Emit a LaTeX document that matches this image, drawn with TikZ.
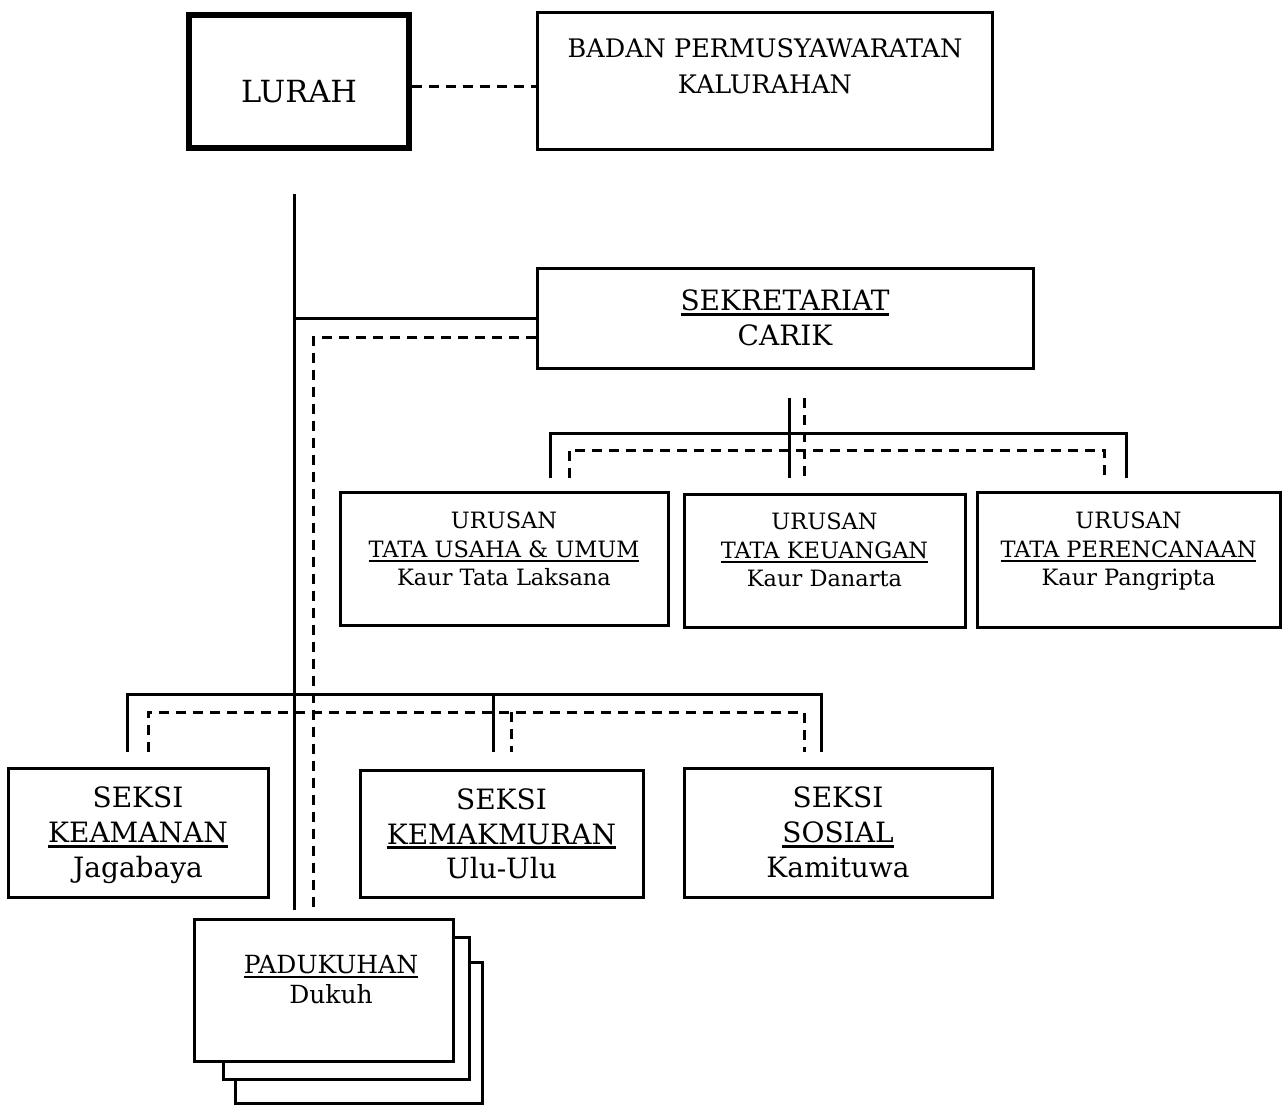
\documentclass[tikz,border=0pt]{standalone}
\usepackage{fontspec}
\setmainfont{DejaVu Serif}
\newcommand{\undl}[1]{\leavevmode\vtop{\hbox{#1}\kern2pt\hrule height 2.5pt}}
\tikzstyle{box} = [rectangle, draw, fill=white, line width=3pt, inner sep=0pt]
\tikzstyle{headbox} = [box, line width=6pt]
\tikzstyle{boxtext} = [anchor=north, align=center, inner sep=0pt]
\tikzstyle{conn} = [line width=3pt]
\tikzstyle{dconn} = [line width=3pt, dash pattern=on 10pt off 7pt]

\begin{document}
\begin{tikzpicture}[x=1pt, y=-1pt]
\useasboundingbox (0,0) rectangle (1284,1104);

% Top row
\node (lurah) [headbox, minimum width=220, minimum height=133] at (299,81.5) {};
\node (lurah-t) [boxtext, font=\fontsize{30.5}{36}\selectfont] at (299,80) {LURAH};
\node (bpk) [box, minimum width=455, minimum height=137] at (764.5,80.5) {};
\node (bpk-t) [boxtext, font=\fontsize{25.5}{36}\selectfont] at (765,38) {BADAN PERMUSYAWARATAN\\KALURAHAN};

% Sekretariat
\node (sek) [box, minimum width=496, minimum height=100] at (785,318) {};
\node (sek-t) [boxtext, font=\fontsize{28}{35}\selectfont] at (785,290) {\undl{SEKRETARIAT}\\CARIK};

% Urusan
\node (tu) [box, minimum width=328, minimum height=133] at (504,558.5) {};
\node (tu-t) [boxtext, font=\fontsize{22.5}{28.5}\selectfont] at (504,512) {URUSAN\\\undl{TATA USAHA \& UMUM}\\Kaur Tata Laksana};
\node (keu) [box, minimum width=281, minimum height=133] at (824.5,560.5) {};
\node (keu-t) [boxtext, font=\fontsize{22.5}{28.5}\selectfont] at (824.5,513) {URUSAN\\\undl{TATA KEUANGAN}\\Kaur Danarta};
\node (ren) [box, minimum width=303, minimum height=135] at (1128.5,559.5) {};
\node (ren-t) [boxtext, font=\fontsize{22.5}{28.5}\selectfont] at (1128.5,512) {URUSAN\\\undl{TATA PERENCANAAN}\\Kaur Pangripta};

% Seksi
\node (keam) [box, minimum width=260, minimum height=129] at (138,832.5) {};
\node (keam-t) [boxtext, font=\fontsize{28}{35}\selectfont] at (138,787) {SEKSI\\\undl{KEAMANAN}\\Jagabaya};
\node (makmur) [box, minimum width=283, minimum height=127] at (501.5,833.5) {};
\node (makmur-t) [boxtext, font=\fontsize{28}{35}\selectfont] at (501.5,788) {SEKSI\\\undl{KEMAKMURAN}\\Ulu-Ulu};
\node (sosial) [box, minimum width=308, minimum height=129] at (838,832.5) {};
\node (sosial-t) [boxtext, font=\fontsize{28}{35}\selectfont] at (838,787) {SEKSI\\\undl{SOSIAL}\\Kamituwa};

% Padukuhan (stacked)
\node (dukuh3) [box, minimum width=247, minimum height=141] at (358.5,1032.5) {};
\node (dukuh2) [box, minimum width=246, minimum height=142] at (346,1008) {};
\node (dukuh) [box, minimum width=259, minimum height=142] at (323.5,990) {};
\node (dukuh-t) [boxtext, font=\fontsize{25}{30}\selectfont] at (331,955) {\undl{PADUKUHAN}\\Dukuh};

% Lines from lurah and sekretariat
\coordinate (trunk) at (294,194);
\coordinate (dtrunk) at (313,337);
\draw[dconn] (lurah.east |- 0,86) -- (bpk.west |- 0,86);
\draw[conn, shorten >=8pt] (trunk) -- (trunk |- dukuh.north);
\draw[conn] (sek.west) -- (sek.west -| trunk);
\draw[dconn, shorten >=8pt] (dtrunk -| sek.west) -- (dtrunk) -- (dtrunk |- dukuh.north);

% Bus to urusan
\coordinate (ustem) at (789,398);
\coordinate (udstem) at (804,398);
\coordinate (ul) at (550,433);
\coordinate (ur) at (1126,433);
\coordinate (udl) at (569,450);
\coordinate (udr) at (1104,450);
\coordinate (uend) at (0,478);
\draw[conn] (ustem) -- (ustem |- uend);
\draw[conn] (ul |- uend) -- (ul) -- (ur) -- (ur |- uend);
\draw[dconn] (udstem) -- (udstem |- uend);
\draw[dconn] (udl |- uend) -- (udl) -- (udr) -- (udr |- uend);

% Bus to seksi
\coordinate (sl) at (127,694);
\coordinate (sm) at (493,694);
\coordinate (sr) at (821,694);
\coordinate (sdl) at (148,712);
\coordinate (sdm) at (511,712);
\coordinate (sdr) at (804,712);
\coordinate (send) at (0,752);
\draw[conn] (sl |- send) -- (sl) -- (sr) -- (sr |- send);
\draw[conn] (sm) -- (sm |- send);
\draw[dconn] (sdl |- send) -- (sdl) -- (sdr) -- (sdr |- send);
\draw[dconn] (sdm) -- (sdm |- send);
\end{tikzpicture}
\end{document}
